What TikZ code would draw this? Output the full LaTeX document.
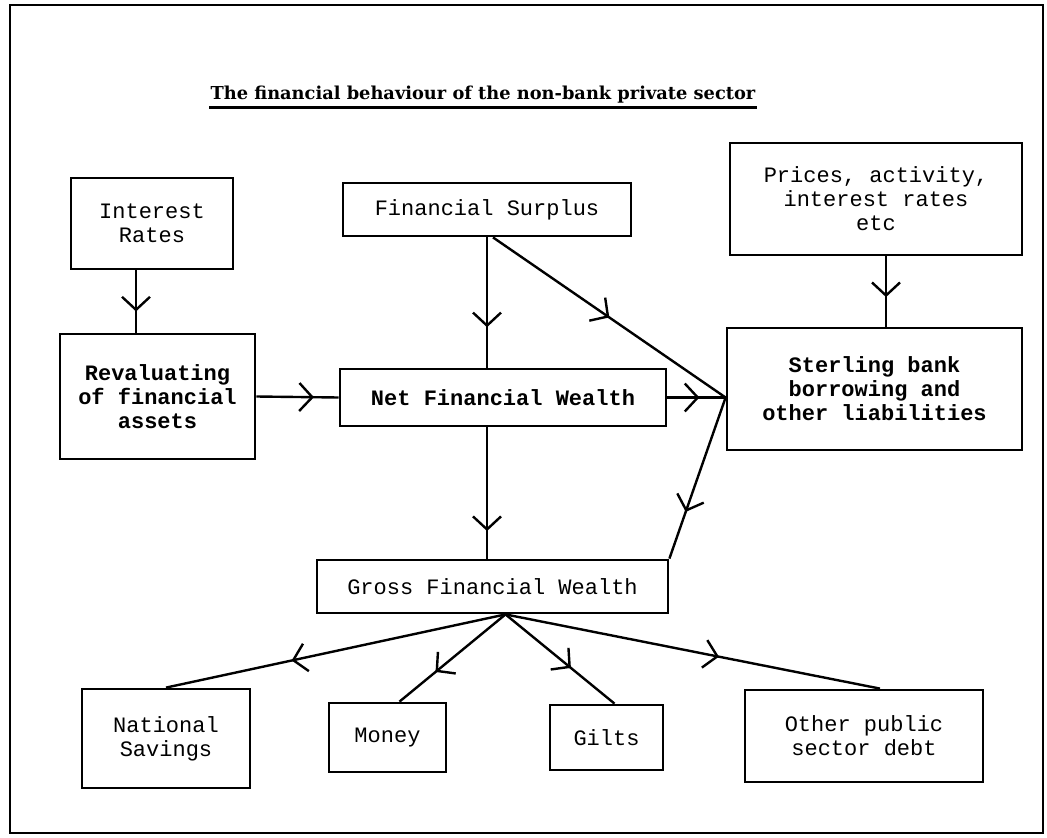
\documentclass[tikz,border=0pt]{standalone}
\usepackage{fontspec}
\setmonofont{Liberation Mono}
\newfontfamily\titlefont{DejaVu Serif}
\usetikzlibrary{arrows.meta,decorations.markings}
\tikzset{box/.style={draw,line width=2.8pt,align=center,inner sep=0pt,
   font=\fontsize{22}{24}\selectfont\ttfamily},
 heavy/.style={box,font=\fontsize{22}{24}\selectfont\ttfamily\bfseries},
 flow/.style={line width=2.4pt,postaction={decorate},
   decoration={markings,mark=at position #1 with {\arrow{Straight Barb[length=13pt,width=28pt]}}}},
 flow/.default=0.6,
 }

\begin{document}
\begin{tikzpicture}[x=1pt,y=-1pt]
        \useasboundingbox (0,0) rectangle (1047,838);
        \draw[line width=2.8pt] (10,5) rectangle (1043,833);
        \node[font=\fontsize{17.8}{19}\selectfont\titlefont\bfseries,inner sep=1pt] (title) at (483,95)
            {The financial behaviour of the non-bank private sector};
        \draw[line width=2.8pt] ([yshift=-3pt]title.south west) -- ([yshift=-3pt]title.south east);

        \node[box,minimum width=162pt,minimum height=91pt] (ir) at (152,223.5) {Interest\\Rates};
        \node[box,minimum width=288pt,minimum height=53pt] (fs) at (487,209.5) {Financial Surplus};
        \node[box,minimum width=292pt,minimum height=112pt] (prices) at (876,199)
            {Prices, activity,\\interest rates\\etc};
        \node[heavy,minimum width=195pt,minimum height=125pt] (rev) at (157.5,396.5)
            {Revaluating\\of financial\\assets};
        \node[heavy,minimum width=326pt,minimum height=57pt] (nfw) at (503,397.5) {Net Financial Wealth};
        \node[heavy,minimum width=295pt,minimum height=122pt] (sterling) at (874.5,389)
            {Sterling bank\\borrowing and\\other liabilities};
        \node[box,minimum width=351pt,minimum height=53pt] (gross) at (492.5,586.5) {Gross Financial Wealth};
        \node[box,minimum width=168pt,minimum height=99pt] (ns) at (166,738.5) {National\\Savings};
        \node[box,minimum width=117pt,minimum height=69pt] (money) at (387.5,737.5) {Money};
        \node[box,minimum width=113pt,minimum height=65pt] (gilts) at (606.5,737.5) {Gilts};
        \node[box,minimum width=238pt,minimum height=92pt] (other) at (864,736) {Other public\\sector debt};

        \coordinate (tip) at (nfw.east -| sterling.west);
        \coordinate (fan) at ([xshift=13pt]gross.south);

        \draw[flow=0.66] ([xshift=-16pt]ir.south) -- ([xshift=-16pt]ir.south |- rev.north);
        \draw[flow=0.69] (fs.south) -- (fs.south |- nfw.north);
        \draw[flow=0.5] ([xshift=6pt]fs.south) -- (tip);
        \draw[flow=0.7] (rev.east) -- (nfw.west);
        \draw[flow=0.55] (nfw.east) -- (tip);
        \draw[flow=0.79] (fs.south |- nfw.south) -- (fs.south |- gross.north);
        \draw[flow=0.71] (tip) -- (gross.north east);
        \draw[flow=0.58] ([xshift=10pt]prices.south) -- ([xshift=10pt]prices.south |- sterling.north);
        \foreach \b/\dx/\p in {ns/0/0.63, money/12/0.66, gilts/8/0.6, other/16/0.57} {
            \draw[flow=\p] (fan) -- ([xshift=\dx pt]\b.north);
        }
    \end{tikzpicture}
\end{document}
